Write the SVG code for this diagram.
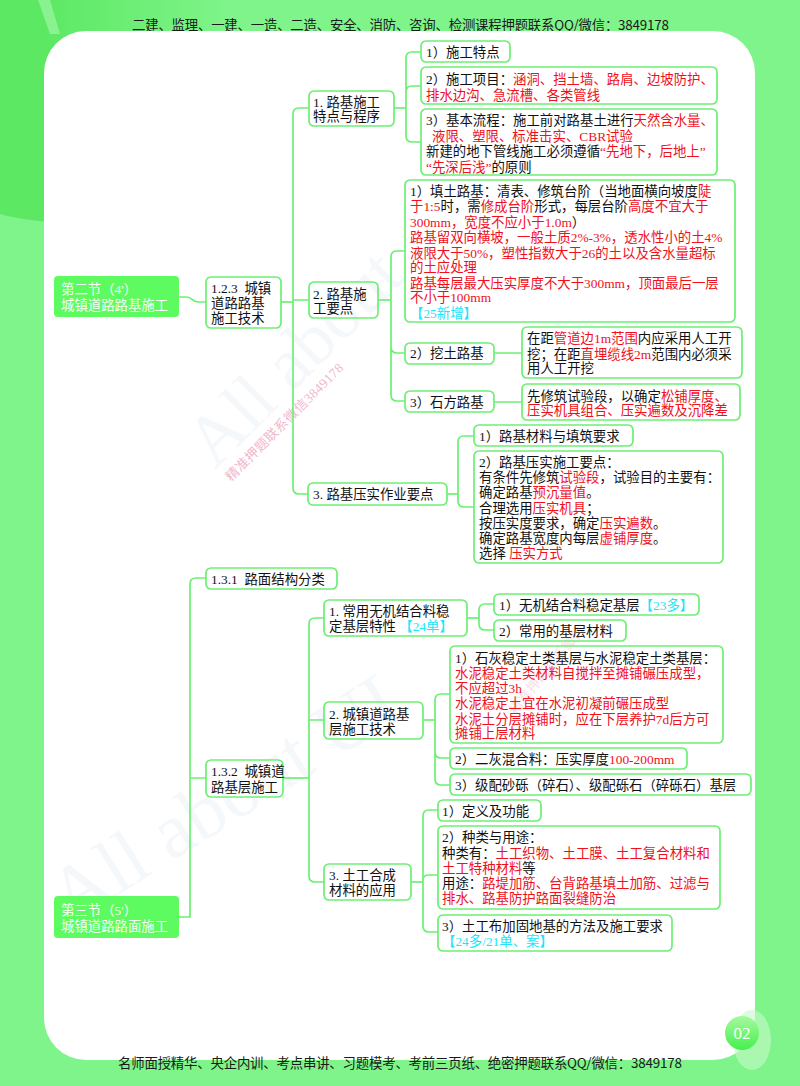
<svg xmlns="http://www.w3.org/2000/svg" width="800" height="1086" viewBox="0 0 800 1086">
<style>
text{font-family:"Liberation Serif","Noto Sans CJK SC",serif;font-size:13.4px;fill:#111;white-space:pre}
.r{fill:#f0101c}.c{fill:#20e4fa}
.w,.w tspan{fill:#f4fff4}
.hd{font-family:"Noto Sans CJK SC","Liberation Sans",sans-serif;font-size:13.4px;fill:#1a1a1a}
.n{fill:none;stroke:#6cf074;stroke-width:1.7}
.s{fill:#5efb60}
.l{fill:none;stroke:#6cf074;stroke-width:1.7}
.wm{font-family:"Liberation Serif",serif;font-size:72px;fill:#e6edf5;opacity:.38}
.wp{font-size:13.4px;fill:#f0b8cc}
</style>
<defs>
<linearGradient id="bgt" gradientUnits="userSpaceOnUse" x1="44" y1="0" x2="230" y2="0">
<stop offset="0" stop-color="#5de864"/><stop offset="1" stop-color="#7ff48a"/>
</linearGradient>
<linearGradient id="pg" x1="0" y1="0" x2="0" y2="1"><stop offset="0" stop-color="#a8f8a0"/><stop offset="1" stop-color="#44f04c"/></linearGradient>
</defs>
<g id="background">
<rect width="800" height="1086" fill="#7ff48a"/>
<path d="M0 0H60V223Q20 220 0 214Z" fill="#5de864"/>
<rect x="44" width="190" height="40" fill="url(#bgt)"/>
<path d="M38 0L50 0L60 34L50 34Z" fill="#9cf5a2" opacity=".7"/>
<text class="hd" x="132" y="30" textLength="537">二建、监理、一建、一造、二造、安全、消防、咨询、检测课程押题联系QQ/微信：3849178</text>
<rect x="44" y="31" width="711" height="1029" rx="42" fill="#fff"/>
<ellipse cx="752" cy="1040" rx="19" ry="30" fill="#c6f9c8" opacity=".6"/>
<circle cx="742" cy="1033" r="17" fill="url(#pg)"/>
<text x="742" y="1039" text-anchor="middle" class="w" style="font-size:17px">02</text>
<text class="hd" x="118" y="1068" textLength="564">名师面授精华、央企内训、考点串讲、习题模考、考前三页纸、绝密押题联系QQ/微信：3849178</text>
</g>
<g id="watermarks">
<text class="wm" transform="translate(215 470) rotate(-45)">All about</text>
<text class="wm" transform="translate(70 925) rotate(-32)" style="font-size:78px">All about UI</text>
<text class="wp" transform="translate(231 482) rotate(-45)" textLength="160">精准押题联系微信3849178</text>
<text class="wp" transform="translate(515 715) rotate(-50)" opacity=".45" textLength="110">精准押题联系微信</text>
</g>
<g id="connectors">
<path class="l" d="M179 297H187C192 297 192 302 198 302H206"/>
<path class="l" d="M281 302H293"/>
<path class="l" d="M309 108H299Q293 108 293 114V488Q293 494 299 494H309M293 300H309"/>
<path class="l" d="M394 108H406"/>
<path class="l" d="M421 52H412Q406 52 406 58V136Q406 142 412 142H421M406 92Q406 86 412 86H421"/>
<path class="l" d="M378 300H391"/>
<path class="l" d="M405 251H397Q391 251 391 257V395Q391 401 397 401H405M391 347Q391 353 397 353H405"/>
<path class="l" d="M494 353H522M494 402H522"/>
<path class="l" d="M447 494H458"/>
<path class="l" d="M474 436H464Q458 436 458 442V501Q458 507 464 507H474"/>
<path class="l" d="M179 917H190V584Q190 578 196 578H206M190 778H206"/>
<path class="l" d="M283 778H309"/>
<path class="l" d="M324 618H315Q309 618 309 624V876Q309 882 315 882H324M309 720H324"/>
<path class="l" d="M467 618H479"/>
<path class="l" d="M494 604H485Q479 604 479 610V624Q479 630 485 630H494"/>
<path class="l" d="M423 720H435"/>
<path class="l" d="M450 694H441Q435 694 435 700V779Q435 785 441 785H450M435 752Q435 758 441 758H450"/>
<path class="l" d="M411 882H423"/>
<path class="l" d="M438 810H429Q423 810 423 816V926Q423 932 429 932H438M423 880Q423 875 429 875H438"/>
</g>
<g id="n1"><rect class="s" x="54" y="276" width="125" height="41" rx="4"/><text class="w" x="61" y="294">第二节（4'）</text><text class="w" x="61" y="310">城镇道路路基施工</text></g>
<g id="n2"><rect class="n" x="206" y="277" width="75" height="51" rx="5"/><text x="211" y="293">1.2.3  城镇</text><text x="211" y="308">道路路基</text><text x="211" y="323">施工技术</text></g>
<g id="n3"><rect class="n" x="309" y="91" width="85" height="35" rx="5"/><text x="313" y="107">1. 路基施工</text><text x="313" y="121">特点与程序</text></g>
<g id="n4"><rect class="n" x="421" y="41" width="89" height="21" rx="5"/><text x="426" y="57">1）施工特点</text></g>
<g id="n5"><rect class="n" x="421" y="67" width="296" height="37" rx="5"/><text x="426" y="84">2）施工项目：<tspan class="r">涵洞、挡土墙、路肩、边坡防护、</tspan></text><text class="r" x="426" y="100">排水边沟、急流槽、各类管线</text></g>
<g id="n6"><rect class="n" x="421" y="109" width="296" height="66" rx="5"/><text x="426" y="125">3）基本流程：施工前对路基土进行<tspan class="r">天然含水量、</tspan></text><text class="r" x="432" y="141">液限、塑限、标准击实、CBR试验</text><text x="426" y="156">新建的地下管线施工必须遵循<tspan class="r">“先地下，后地上”</tspan></text><text x="426" y="172"><tspan class="r">“先深后浅”</tspan>的原则</text></g>
<g id="n7"><rect class="n" x="309" y="282" width="69" height="36" rx="5"/><text x="313" y="298.500">2. 路基施</text><text x="313" y="313">工要点</text></g>
<g id="n8"><rect class="n" x="405" y="180" width="330" height="142" rx="5"/>
<text x="410" y="196">1）填土路基：清表、修筑台阶（当地面横向坡度<tspan class="r">陡</tspan></text>
<text x="410" y="211"><tspan class="r">于1:5</tspan>时，需<tspan class="r">修成台阶</tspan>形式，每层台阶<tspan class="r">高度不宜大于</tspan></text>
<text x="410" y="227"><tspan class="r">300mm，宽度不应小于1.0m</tspan>）</text>
<text class="r" x="410" y="242">路基留双向横坡，一般土质2%-3%，透水性小的土4%</text>
<text class="r" x="410" y="258">液限大于50%，塑性指数大于26的土以及含水量超标</text>
<text class="r" x="410" y="272">的土应处理</text>
<text class="r" x="410" y="288">路基每层最大压实厚度不大于300mm，顶面最后一层</text>
<text class="r" x="410" y="302">不小于100mm</text>
<text class="c" x="410" y="318">【25新增】</text></g>
<g id="n9"><rect class="n" x="405" y="343" width="89" height="21" rx="5"/><text x="410" y="358">2）挖土路基</text></g>
<g id="n10"><rect class="n" x="522" y="327" width="220" height="51" rx="5"/><text x="527" y="343">在距<tspan class="r">管道边1m范围</tspan>内应采用人工开</text><text x="527" y="359">挖；在距<tspan class="r">直埋缆线2m</tspan>范围内必须采</text><text x="527" y="373">用人工开挖</text></g>
<g id="n11"><rect class="n" x="405" y="391" width="89" height="21" rx="5"/><text x="410" y="407">3）石方路基</text></g>
<g id="n12"><rect class="n" x="522" y="384" width="218" height="36" rx="5"/><text x="527" y="400.500">先修筑试验段，以确定<tspan class="r">松铺厚度、</tspan></text><text class="r" x="527" y="415">压实机具组合、压实遍数及沉降差</text></g>
<g id="n13"><rect class="n" x="308" y="483" width="139" height="22" rx="5"/><text x="313" y="499">3. 路基压实作业要点</text></g>
<g id="n14"><rect class="n" x="474" y="425" width="159" height="21" rx="5"/><text x="479" y="441">1）路基材料与填筑要求</text></g>
<g id="n15"><rect class="n" x="474" y="451" width="249" height="112" rx="5"/>
<text x="479" y="467">2）路基压实施工要点：</text>
<text x="479" y="482">有条件先修筑<tspan class="r">试验段</tspan>，试验目的主要有：</text>
<text x="479" y="497">确定路基<tspan class="r">预沉量值</tspan>。</text>
<text x="479" y="513">合理选用<tspan class="r">压实机具</tspan>；</text>
<text x="479" y="528">按压实度要求，确定<tspan class="r">压实遍数</tspan>。</text>
<text x="479" y="543">确定路基宽度内每层<tspan class="r">虚铺厚度</tspan>。</text>
<text x="479" y="558">选择 <tspan class="r">压实方式</tspan></text></g>
<g id="n16"><rect class="s" x="54" y="896" width="125" height="42" rx="4"/><text class="w" x="61" y="915">第三节（5'）</text><text class="w" x="61" y="931">城镇道路路面施工</text></g>
<g id="n17"><rect class="n" x="206" y="568" width="131" height="21" rx="5"/><text x="211" y="584">1.3.1  路面结构分类</text></g>
<g id="n18"><rect class="n" x="206" y="760" width="77" height="37" rx="5"/><text x="211" y="776">1.3.2  城镇道</text><text x="211" y="792">路基层施工</text></g>
<g id="n19"><rect class="n" x="324" y="600" width="143" height="36" rx="5"/><text x="329" y="616">1. 常用无机结合料稳</text><text x="329" y="631">定基层特性 <tspan class="c">【24单】</tspan></text></g>
<g id="n20"><rect class="n" x="494" y="594" width="205" height="21" rx="5"/><text x="499" y="610">1）无机结合料稳定基层<tspan class="c">【23多】</tspan></text></g>
<g id="n21"><rect class="n" x="494" y="620" width="132" height="21" rx="5"/><text x="499" y="636">2）常用的基层材料</text></g>
<g id="n22"><rect class="n" x="324" y="702" width="99" height="37" rx="5"/><text x="329" y="719">2. 城镇道路基</text><text x="329" y="734">层施工技术</text></g>
<g id="n23"><rect class="n" x="450" y="646" width="273" height="97" rx="5"/>
<text x="455" y="663">1）石灰稳定土类基层与水泥稳定土类基层：</text>
<text class="r" x="455" y="678">水泥稳定土类材料自搅拌至摊铺碾压成型，</text>
<text class="r" x="455" y="693">不应超过3h</text>
<text class="r" x="455" y="708">水泥稳定土宜在水泥初凝前碾压成型</text>
<text class="r" x="455" y="724">水泥土分层摊铺时，应在下层养护7d后方可</text>
<text class="r" x="455" y="738">摊铺上层材料</text></g>
<g id="n24"><rect class="n" x="450" y="748" width="237" height="21" rx="5"/><text x="455" y="764">2）二灰混合料：压实厚度<tspan class="r">100-200mm</tspan></text></g>
<g id="n25"><rect class="n" x="450" y="774" width="301" height="21" rx="5"/><text x="455" y="790">3）级配砂砾（碎石）、级配砾石（碎砾石）基层</text></g>
<g id="n26"><rect class="n" x="324" y="864" width="87" height="36" rx="5"/><text x="329" y="880">3. 土工合成</text><text x="329" y="895">材料的应用</text></g>
<g id="n27"><rect class="n" x="438" y="800" width="103" height="21" rx="5"/><text x="442" y="816">1）定义及功能</text></g>
<g id="n28"><rect class="n" x="438" y="826" width="282" height="83" rx="5"/>
<text x="442" y="842">2）种类与用途：</text>
<text x="442" y="858">种类有：<tspan class="r">土工织物、土工膜、土工复合材料和</tspan></text>
<text x="442" y="873"><tspan class="r">土工特种材料</tspan>等</text>
<text x="442" y="888">用途：<tspan class="r">路堤加筋、台背路基填土加筋、过滤与</tspan></text>
<text class="r" x="442" y="903">排水、路基防护路面裂缝防治</text></g>
<g id="n29"><rect class="n" x="438" y="915" width="234" height="36" rx="5"/><text x="442" y="931">3）土工布加固地基的方法及施工要求</text><text class="c" x="442" y="946">【24多/21单、案】</text></g>
</svg>
